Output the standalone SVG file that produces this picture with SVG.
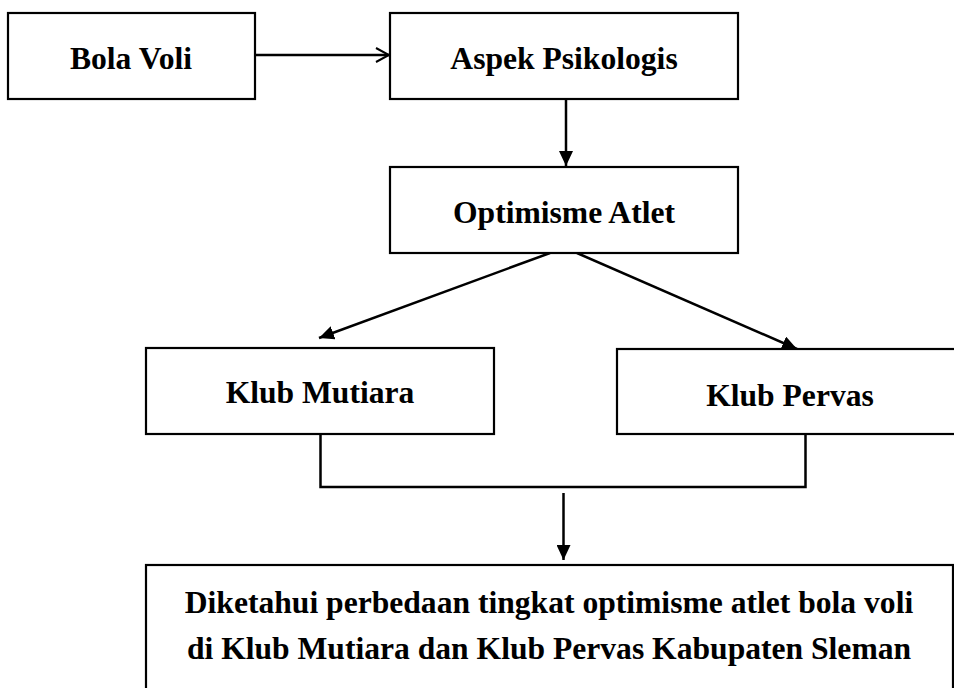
<svg xmlns="http://www.w3.org/2000/svg" width="954" height="688" viewBox="0 0 954 688">
  <style>
    .box { fill: #ffffff; stroke: #000000; stroke-width: 2.2; }
    .lbl { font-family: "Liberation Serif", "Times New Roman", serif; font-weight: bold; font-size: 31.6px; fill: #000000; text-anchor: middle; }
    .conn { fill: none; stroke: #000000; stroke-width: 2.5; }
  </style>
  <defs>
    <marker id="filled" markerUnits="userSpaceOnUse" markerWidth="16" markerHeight="14" refX="15" refY="7" orient="auto">
      <path d="M0,0 L15,7 L0,14 Z" fill="#000000"/>
    </marker>
    <marker id="open" markerUnits="userSpaceOnUse" markerWidth="16" markerHeight="16" refX="14" refY="8" orient="auto">
      <path d="M1,1 L14,8 L1,15" fill="none" stroke="#000000" stroke-width="2"/>
    </marker>
  </defs>
  <rect x="0" y="0" width="954" height="688" fill="#ffffff"/>

  <g id="connectors">
    <line class="conn" x1="255" y1="55" x2="389" y2="55" marker-end="url(#open)"/>
    <line class="conn" x1="566" y1="99" x2="566" y2="166" stroke-width="3" marker-end="url(#filled)"/>
    <line class="conn" x1="550" y1="253" x2="319" y2="338" marker-end="url(#filled)"/>
    <line class="conn" x1="577" y1="253" x2="797" y2="349" marker-end="url(#filled)"/>
    <polyline class="conn" stroke-width="3.5" points="320.5,434 320.5,487 805.5,487 805.5,434"/>
    <line class="conn" x1="563.5" y1="493" x2="563.5" y2="560" stroke-width="3" marker-end="url(#filled)"/>
  </g>

  <g id="node-bola-voli">
    <rect class="box" x="8" y="13" width="247" height="86"/>
    <text class="lbl" x="131" y="69">Bola Voli</text>
  </g>
  <g id="node-aspek-psikologis">
    <rect class="box" x="390" y="13" width="348" height="86"/>
    <text class="lbl" x="564" y="69">Aspek Psikologis</text>
  </g>
  <g id="node-optimisme-atlet">
    <rect class="box" x="390" y="167" width="348" height="86"/>
    <text class="lbl" x="564" y="223">Optimisme Atlet</text>
  </g>
  <g id="node-klub-mutiara">
    <rect class="box" x="146" y="348" width="348" height="86"/>
    <text class="lbl" x="320" y="403">Klub Mutiara</text>
  </g>
  <g id="node-klub-pervas">
    <rect class="box" x="617" y="349" width="348" height="85"/>
    <text class="lbl" x="790" y="406">Klub Pervas</text>
  </g>
  <g id="node-kesimpulan">
    <rect class="box" x="146" y="565" width="807" height="140"/>
    <text class="lbl" x="549" y="613">Diketahui perbedaan tingkat optimisme atlet bola voli</text>
    <text class="lbl" x="549" y="659">di Klub Mutiara dan Klub Pervas Kabupaten Sleman</text>
  </g>
</svg>
